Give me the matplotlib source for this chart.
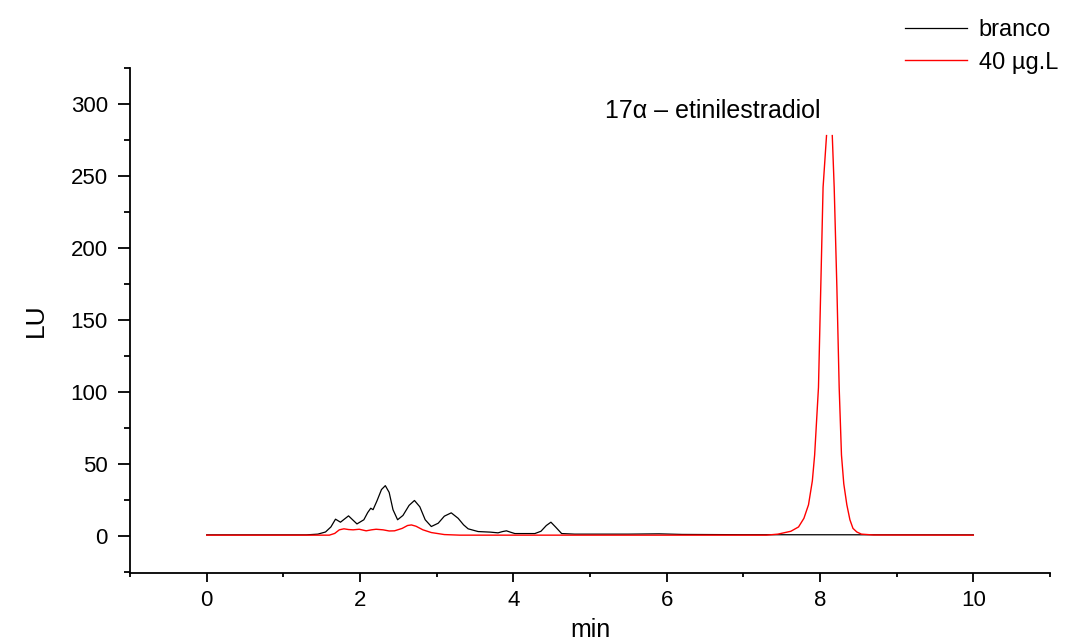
import numpy as np
import matplotlib
matplotlib.use("Agg")
import matplotlib.pyplot as plt
from matplotlib.ticker import MultipleLocator

plt.rcParams['font.family'] = ['Liberation Sans', 'DejaVu Sans']

# branco (blank) trace: time (min), LU
branco_t = [0, 1.3, 1.45, 1.55, 1.62, 1.68, 1.745, 1.85, 1.96, 2.05, 2.1, 2.14, 2.17,
            2.22, 2.28, 2.33, 2.38, 2.43, 2.49, 2.56, 2.64, 2.71, 2.78, 2.85, 2.93,
            3.02, 3.1, 3.19, 3.28, 3.35, 3.41, 3.54, 3.7, 3.8, 3.86, 3.91, 3.96, 4.02,
            4.28, 4.36, 4.43, 4.49, 4.55, 4.63, 4.8, 5.5, 5.9, 6.2, 7.0, 10.0]
branco_lu = [0.5, 0.5, 1, 2.5, 6, 11.4, 9.3, 13.7, 8.1, 11, 16, 19, 18,
             24, 32, 34.7, 30, 18, 11, 14, 21, 24.4, 20, 11, 6.3,
             8.6, 13.5, 15.8, 12, 7.5, 4.7, 2.8, 2.4, 1.9, 2.8, 3.3, 2.4, 1.4,
             1.4, 3, 7, 9.3, 6, 1.4, 1, 1, 1.2, 0.8, 0.6, 0.5]

# 40 ug/L standard trace (peak top is cut off in the original)
std_t = [0, 1.6, 1.67, 1.73, 1.79, 1.85, 1.91, 1.99, 2.08, 2.15, 2.21, 2.3, 2.38,
         2.45, 2.55, 2.62, 2.67, 2.73, 2.82, 2.93, 3.1, 3.3, 7.3, 7.45, 7.62, 7.72,
         7.79, 7.85, 7.9, 7.93, 7.98, 8.01, 8.04, 8.085, 8.12, 8.16, 8.185, 8.22,
         8.25, 8.28, 8.31, 8.35, 8.39, 8.43, 8.48, 8.54, 8.7, 10.0]
std_lu = [0.3, 0.3, 1.5, 4, 4.7, 4.2, 4, 4.4, 3.3, 4, 4.4, 4, 3.2,
          3.3, 5, 7, 7.4, 6.5, 4, 2.1, 0.7, 0.3, 0.3, 1, 3, 6,
          12, 21.4, 38, 56, 103, 172.6, 242, 278, np.nan, 278, 242, 172.6,
          103, 56, 36, 21.4, 11, 5, 2.5, 1, 0.4, 0.3]

labels = ["branco", "40 µg.L"]
peak_label = "17α – etinilestradiol"

fig = plt.figure(figsize=(10.9, 6.41), dpi=100)
ax = fig.add_axes([0.1193, 0.1061, 0.8440, 0.7879])

ax.plot(branco_t, branco_lu, color="black", lw=0.9, label=labels[0])
ax.plot(std_t, std_lu, color="#ff0000", lw=1.0, label=labels[1])

ax.set_xlim(-1, 11)
ax.set_ylim(-26, 325)
ax.xaxis.set_minor_locator(MultipleLocator(1))
ax.yaxis.set_minor_locator(MultipleLocator(25))
ax.set_xticks([0, 2, 4, 6, 8, 10])
ax.set_yticks([0, 50, 100, 150, 200, 250, 300])

for s in ("top", "right"):
    ax.spines[s].set_visible(False)
for s in ("left", "bottom"):
    ax.spines[s].set_linewidth(1.3)
ax.tick_params(which="both", direction="out", width=1.3, labelsize=16)
ax.tick_params(axis="x", which="major", length=6.5, pad=6)
ax.tick_params(axis="x", which="minor", length=3)
ax.tick_params(axis="y", which="major", length=9, pad=7)
ax.tick_params(axis="y", which="minor", length=4.5)

ax.set_xlabel("min", fontsize=18, labelpad=5)
ax.set_ylabel("LU", fontsize=19, labelpad=16)

ax.text(6.6, 295, peak_label, fontsize=18, ha="center", va="center")

fig.legend(loc="upper left", bbox_to_anchor=(0.822, 0.985), frameon=False,
           fontsize=17, handlelength=2.6, handletextpad=0.5, labelspacing=0.45,
           borderaxespad=0)

fig.savefig("out.png", dpi=100)
